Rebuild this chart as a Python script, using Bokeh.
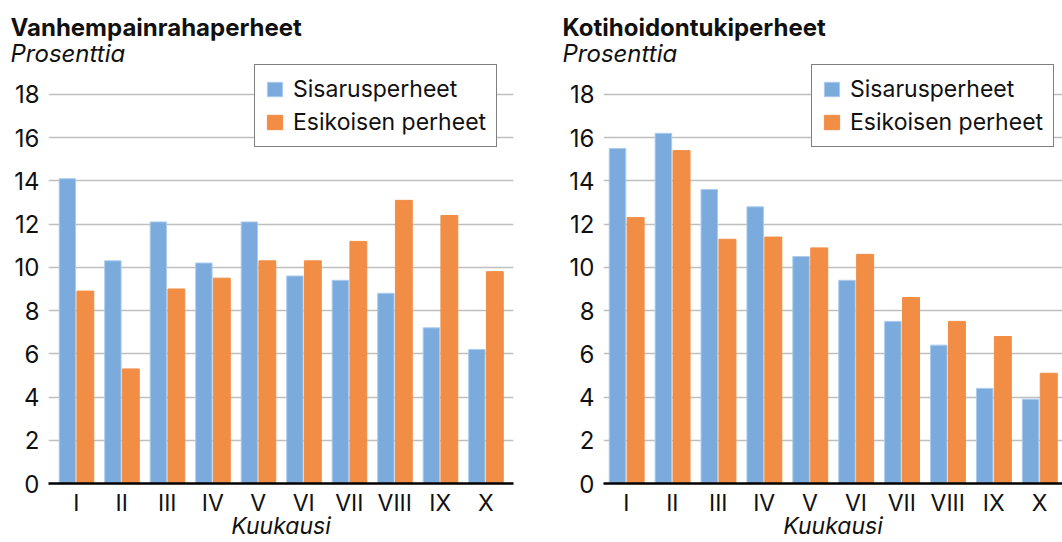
from bokeh.plotting import figure
from bokeh.models import ColumnDataSource, FactorRange, Range1d, Legend, LegendItem, Title, FixedTicker
from bokeh.transform import dodge
from bokeh.layouts import row
from bokeh.embed import file_html
from bokeh.resources import INLINE

months = ["I", "II", "III", "IV", "V", "VI", "VII", "VIII", "IX", "X"]

left_title = "Vanhempainrahaperheet"
left_sisarus = [14.1, 10.3, 12.1, 10.2, 12.1, 9.6, 9.4, 8.8, 7.2, 6.2]
left_esikoinen = [8.9, 5.3, 9.0, 9.5, 10.3, 10.3, 11.2, 13.1, 12.4, 9.8]

right_title = "Kotihoidontukiperheet"
right_sisarus = [15.5, 16.2, 13.6, 12.8, 10.5, 9.4, 7.5, 6.4, 4.4, 3.9]
right_esikoinen = [12.3, 15.4, 11.3, 11.4, 10.9, 10.6, 8.6, 7.5, 6.8, 5.1]

y_ticks = [0, 2, 4, 6, 8, 10, 12, 14, 16, 18]
subtitle = "Prosenttia"
x_label = "Kuukausi"
series_names = ["Sisarusperheet", "Esikoisen perheet"]

BLUE = "#7BABDC"
BLUE_EDGE = "#A9CBEE"
ORANGE = "#F18D45"
FONT = "Inter"
TXT = "#111111"


def make_panel(title, sis, esi, width, border_left, border_right, pad, legend_x, title_offset):
    src = ColumnDataSource(dict(m=months, sis=sis, esi=esi))
    p = figure(x_range=FactorRange(factors=months, range_padding=pad, range_padding_units="absolute"),
               y_range=Range1d(0, 19.43),
               width=width, height=542, output_backend="svg", toolbar_location=None,
               min_border_left=border_left, min_border_right=border_right,
               min_border_top=63, min_border_bottom=0)
    p.title = None
    p.outline_line_color = None
    p.background_fill_color = "white"
    p.border_fill_color = "white"

    r1 = p.vbar(x=dodge("m", -0.195, range=p.x_range), top="sis", width=0.36, source=src,
                fill_color=BLUE, line_color=BLUE_EDGE, line_width=1)
    r2 = p.vbar(x=dodge("m", 0.2, range=p.x_range), top="esi", width=0.37, source=src,
                fill_color=ORANGE, line_color=ORANGE, line_width=1)

    p.xgrid.grid_line_color = None
    p.ygrid.grid_line_color = "#BFBFBF"
    p.ygrid.grid_line_width = 1.5
    p.ygrid.ticker = FixedTicker(ticks=y_ticks[1:])

    p.yaxis.ticker = FixedTicker(ticks=y_ticks)
    p.yaxis.axis_line_color = None
    p.yaxis.major_tick_line_color = None
    p.yaxis.minor_tick_line_color = None
    p.yaxis.major_tick_out = 0
    p.yaxis.major_tick_in = 0
    p.yaxis.minor_tick_out = 0
    p.yaxis.major_label_text_font = FONT
    p.yaxis.major_label_text_font_size = "24px"
    p.yaxis.major_label_text_color = TXT
    p.yaxis.major_label_standoff = 9

    p.xaxis.axis_line_color = "black"
    p.xaxis.axis_line_width = 2.5
    p.xaxis.major_tick_line_color = None
    p.xaxis.minor_tick_line_color = None
    p.xaxis.major_tick_out = 0
    p.xaxis.major_tick_in = 0
    p.xaxis.minor_tick_out = 0
    p.xaxis.major_label_text_font = FONT
    p.xaxis.major_label_text_font_size = "23px"
    p.xaxis.major_label_text_color = TXT
    p.xaxis.major_label_standoff = 5
    p.xaxis.axis_label = x_label
    p.xaxis.axis_label_text_font = FONT
    p.xaxis.axis_label_text_font_size = "23px"
    p.xaxis.axis_label_text_font_style = "italic"
    p.xaxis.axis_label_text_color = TXT
    p.xaxis.axis_label_standoff = -8

    legend = Legend(items=[LegendItem(label=series_names[0], renderers=[r1]),
                           LegendItem(label=series_names[1], renderers=[r2])],
                    location=(legend_x, 336),
                    border_line_color="black", border_line_width=1.5,
                    background_fill_alpha=1.0,
                    label_text_font=FONT, label_text_font_size="23px",
                    label_text_color=TXT,
                    glyph_width=19, glyph_height=18, label_standoff=9,
                    padding=10, spacing=5, margin=0)
    p.add_layout(legend, "center")

    p.add_layout(Title(text=subtitle, text_font=FONT, text_font_size="24px", text_font_style="italic",
                       text_color=TXT, align="left", offset=title_offset, standoff=-9), "above")
    p.add_layout(Title(text=title, text_font=FONT, text_font_size="24px", text_font_style="bold",
                       text_color=TXT, align="left", offset=title_offset, standoff=0), "above")
    return p


p1 = make_panel(left_title, left_sisarus, left_esikoinen, 540, 48, 27, 0.11, 206, -38)
p2 = make_panel(right_title, right_sisarus, right_esikoinen, 522, 63, 0, 0.0, 208, -41)

layout = row(p1, p2)
open("out.html", "w").write(file_html(layout, INLINE))
